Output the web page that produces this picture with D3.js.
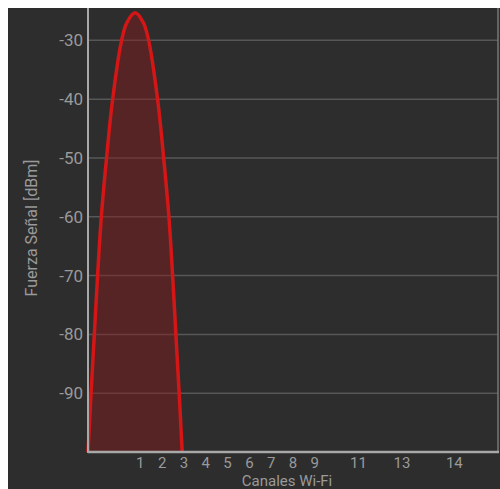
<!DOCTYPE html>
<meta charset="utf-8">
<style>
  body { margin: 0; background: #fff; }
  text { font-family: Roboto, "Noto Sans", sans-serif; }
</style>
<body>
<script src="https://cdn.jsdelivr.net/npm/d3@7"></script>
<script>

var w = 500,
    h = 489;

// channel ticks (MHz centre frequencies); 10 and 12 are not labelled
var channels = [1, 2, 3, 4, 5, 6, 7, 8, 9, 11, 13, 14];
var channelFreq = [2412, 2417, 2422, 2427, 2432, 2437, 2442, 2447, 2452, 2462, 2472, 2484];

var dbmTicks = [-30, -40, -50, -60, -70, -80, -90];

// signal curve
var curveFreq = [2400.0, 2400.7, 2401.45, 2402.2, 2403.05, 2404.25, 2405.65, 2407.7, 2408.9,
                 2410.8, 2412.7, 2413.9, 2415.95, 2417.35, 2418.55, 2419.4, 2420.15, 2420.9, 2421.6];
var curveDbm = [-100, -90, -80, -70, -60, -50, -40, -30, -27,
                -25.3, -27, -30, -40, -50, -60, -70, -80, -90, -100];

var pLeft = 88, pRight = 498, pTop = 8, pBottom = 452;

var svg = d3.select("body").append("svg")
    .attr("width", w)
    .attr("height", h);

svg.append("rect")
    .attr("x", 8).attr("y", 8)
    .attr("width", w - 8).attr("height", h - 8)
    .attr("fill", "#2d2d2d");

var x = d3.scaleLinear().domain([2400, 2494]).range([pLeft, pRight]);
var y = d3.scaleLinear().domain([-100, -24.5]).range([pBottom, pTop]);

// grid
svg.selectAll(".grid")
    .data(dbmTicks)
  .enter().append("line")
    .attr("class", "grid")
    .attr("x1", pLeft).attr("x2", pRight)
    .attr("y1", function(d) { return y(d); })
    .attr("y2", function(d) { return y(d); })
    .attr("stroke", "#575757")
    .attr("stroke-width", 1.5);

var pts = curveFreq.map(function(f, i) { return [f, curveDbm[i]]; });

svg.append("path")
    .datum(pts)
    .attr("fill", "#8a1a1a")
    .attr("fill-opacity", 0.45)
    .attr("d", d3.area()
        .x(function(d) { return x(d[0]); })
        .y0(pBottom)
        .y1(function(d) { return y(d[1]); })
        .curve(d3.curveCatmullRom.alpha(0.5)));

svg.append("path")
    .datum(pts)
    .attr("fill", "none")
    .attr("stroke", "#d41616")
    .attr("stroke-width", 3.5)
    .attr("d", d3.line()
        .x(function(d) { return x(d[0]); })
        .y(function(d) { return y(d[1]); })
        .curve(d3.curveCatmullRom.alpha(0.5)));

// frame
svg.append("line")
    .attr("x1", pRight).attr("x2", pRight).attr("y1", pTop).attr("y2", pBottom)
    .attr("stroke", "#777").attr("stroke-width", 1.5);
svg.append("line")
    .attr("x1", pLeft).attr("x2", pLeft).attr("y1", pTop).attr("y2", pBottom + 1)
    .attr("stroke", "#a8a8a8").attr("stroke-width", 2);
svg.append("line")
    .attr("x1", pLeft).attr("x2", pRight + 1).attr("y1", pBottom).attr("y2", pBottom)
    .attr("stroke", "#a8a8a8").attr("stroke-width", 2.5);

// y tick labels
svg.selectAll(".ylab")
    .data(dbmTicks)
  .enter().append("text")
    .attr("class", "ylab")
    .attr("x", 83)
    .attr("y", function(d) { return y(d); })
    .attr("dy", "0.35em")
    .attr("text-anchor", "end")
    .attr("fill", "#9a9a9a")
    .style("font-size", "17px")
    .text(function(d) { return d; });

// x tick labels
svg.selectAll(".xlab")
    .data(channels)
  .enter().append("text")
    .attr("class", "xlab")
    .attr("x", function(d, i) { return x(channelFreq[i]); })
    .attr("y", 468)
    .attr("text-anchor", "middle")
    .attr("fill", "#9a9a9a")
    .style("font-size", "15px")
    .text(function(d) { return d; });

svg.append("text")
    .attr("transform", "translate(37,228) rotate(-90)")
    .attr("text-anchor", "middle")
    .attr("fill", "#9a9a9a")
    .style("font-size", "16px")
    .text("Fuerza Señal [dBm]");

svg.append("text")
    .attr("x", 287)
    .attr("y", 486)
    .attr("text-anchor", "middle")
    .attr("fill", "#9a9a9a")
    .style("font-size", "15px")
    .text("Canales Wi-Fi");

</script>
